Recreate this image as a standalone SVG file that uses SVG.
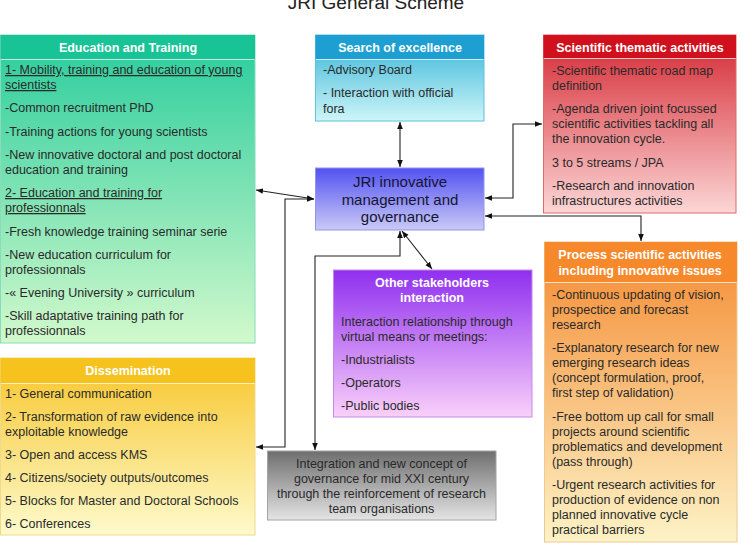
<svg xmlns="http://www.w3.org/2000/svg" width="744" height="546" viewBox="0 0 744 546">
<defs>
<linearGradient id="gEdu" x1="0" y1="0" x2="0" y2="1"><stop offset="0" stop-color="#27cc9c"/><stop offset="1" stop-color="#d2f9cc"/></linearGradient>
<linearGradient id="gSea" x1="0" y1="0" x2="0" y2="1"><stop offset="0" stop-color="#33b3d6"/><stop offset="1" stop-color="#cdf5f8"/></linearGradient>
<linearGradient id="gJri" x1="0" y1="0" x2="0" y2="1"><stop offset="0" stop-color="#5252f2"/><stop offset="1" stop-color="#cacaf7"/></linearGradient>
<linearGradient id="gSci" x1="0" y1="0" x2="0" y2="1"><stop offset="0" stop-color="#d52832"/><stop offset="1" stop-color="#fcd6d6"/></linearGradient>
<linearGradient id="gPro" x1="0" y1="0" x2="0" y2="1"><stop offset="0" stop-color="#f58a30"/><stop offset="1" stop-color="#fdf3c6"/></linearGradient>
<linearGradient id="gDis" x1="0" y1="0" x2="0" y2="1"><stop offset="0" stop-color="#f8c52a"/><stop offset="1" stop-color="#fdfacc"/></linearGradient>
<linearGradient id="gOth" x1="0" y1="0" x2="0" y2="1"><stop offset="0" stop-color="#8f2ff0"/><stop offset="1" stop-color="#fad0fa"/></linearGradient>
<linearGradient id="gInt" x1="0" y1="0" x2="0" y2="1"><stop offset="0" stop-color="#6e6e6e"/><stop offset="1" stop-color="#e4e4e4"/></linearGradient>
<marker id="ah" viewBox="0 0 10 10" refX="10" refY="5" markerWidth="7" markerHeight="7" markerUnits="userSpaceOnUse" orient="auto-start-reverse"><path d="M0,1 L10,5 L0,9 z" fill="#111"/></marker>
</defs>
<style>
text{font-family:"Liberation Sans",Arial,sans-serif;}
.t{font-size:12.5px;fill:#2a2a2a;}
.u{text-decoration:underline;}
.h{font-size:12.5px;font-weight:bold;fill:#ffffff;text-anchor:middle;}
.c{text-anchor:middle;}
.sep{stroke:#ffffff;stroke-opacity:0.7;stroke-width:1;}
.con{fill:none;stroke:#222;stroke-width:1.1;marker-start:url(#ah);marker-end:url(#ah);}
</style>
<rect width="744" height="546" fill="#ffffff"/>
<text x="376" y="9" class="c" font-size="19" fill="#222">JRI General Scheme</text>

<g id="education">
<rect x="0.5" y="35" width="254.5" height="308" fill="url(#gEdu)" stroke="#86dcbc"/>
<rect x="0.5" y="35" width="254.5" height="24" fill="#18c396"/>
<line x1="1" y1="59.5" x2="254.5" y2="59.5" class="sep"/>
<text x="128" y="51.5" class="h">Education and Training</text>
<text x="5" y="74" class="t u">1- Mobility, training and education of young</text>
<text x="5" y="89" class="t u">scientists</text>
<text x="5" y="112" class="t">-Common recruitment PhD</text>
<text x="5" y="135.5" class="t">-Training actions for young scientists</text>
<text x="5" y="159" class="t">-New innovative doctoral and post doctoral</text>
<text x="5" y="174" class="t">education and training</text>
<text x="5" y="197" class="t u">2- Education and training for</text>
<text x="5" y="212" class="t u">professionnals</text>
<text x="5" y="235.5" class="t">-Fresh knowledge training seminar serie</text>
<text x="5" y="258.5" class="t">-New education curriculum for</text>
<text x="5" y="273.5" class="t">professionnals</text>
<text x="5" y="296.5" class="t">-« Evening University » curriculum</text>
<text x="5" y="319.5" class="t">-Skill adaptative training path for</text>
<text x="5" y="335" class="t">professionnals</text>
</g>

<g id="search">
<rect x="315.5" y="35" width="168.5" height="86" fill="url(#gSea)" stroke="#5cc3e0"/>
<rect x="315.5" y="35" width="168.5" height="24" fill="#1e9fd2"/>
<line x1="316" y1="59.5" x2="483.5" y2="59.5" class="sep"/>
<text x="400" y="51.5" class="h">Search of excellence</text>
<text x="323" y="74" class="t">-Advisory Board</text>
<text x="323" y="97" class="t">- Interaction with official</text>
<text x="323" y="112.5" class="t">fora</text>
</g>

<g id="jri">
<rect x="315.5" y="168" width="168.5" height="62" fill="url(#gJri)" stroke="#9494ec"/>
<text x="400" y="187" class="c" font-size="15" fill="#151530">JRI innovative</text>
<text x="400" y="204.5" class="c" font-size="15" fill="#151530">management and</text>
<text x="400" y="222" class="c" font-size="15" fill="#151530">governance</text>
</g>

<g id="scientific">
<rect x="543.5" y="35" width="192.5" height="178" fill="url(#gSci)" stroke="#e06868"/>
<rect x="543.5" y="35" width="192.5" height="23" fill="#d0101c"/>
<line x1="544" y1="58.5" x2="735.5" y2="58.5" class="sep"/>
<text x="640" y="51.5" class="h">Scientific thematic activities</text>
<text x="552" y="74.5" class="t">-Scientific thematic road map</text>
<text x="552" y="89.5" class="t">definition</text>
<text x="552" y="112.5" class="t">-Agenda driven joint focussed</text>
<text x="552" y="128" class="t">scientific activities tackling all</text>
<text x="552" y="143" class="t">the innovation cycle.</text>
<text x="552" y="166.5" class="t">3 to 5 streams / JPA</text>
<text x="552" y="189.5" class="t">-Research and innovation</text>
<text x="552" y="204.5" class="t">infrastructures activities</text>
</g>

<g id="process">
<rect x="544.5" y="242" width="192.5" height="300" fill="url(#gPro)" stroke="#f0c890"/>
<rect x="544.5" y="242" width="192.5" height="40" fill="#f5892c"/>
<line x1="545" y1="282.5" x2="736.5" y2="282.5" class="sep"/>
<text x="640" y="258.5" class="h" fill="#fff6e8">Process scientific activities</text>
<text x="640" y="274.5" class="h" fill="#fff6e8">including innovative issues</text>
<text x="552" y="298.5" class="t">-Continuous updating of vision,</text>
<text x="552" y="313.5" class="t">prospectice and forecast</text>
<text x="552" y="328.5" class="t">research</text>
<text x="552" y="351.5" class="t">-Explanatory research for new</text>
<text x="552" y="366.5" class="t">emerging research ideas</text>
<text x="552" y="381.5" class="t">(concept formulation, proof,</text>
<text x="552" y="396.5" class="t">first step of validation)</text>
<text x="552" y="420.5" class="t">-Free bottom up call for small</text>
<text x="552" y="435.5" class="t">projects around scientific</text>
<text x="552" y="450.5" class="t">problematics and development</text>
<text x="552" y="465.5" class="t">(pass through)</text>
<text x="552" y="488.5" class="t">-Urgent research activities for</text>
<text x="552" y="503.5" class="t">production of evidence on non</text>
<text x="552" y="518.5" class="t">planned innovative cycle</text>
<text x="552" y="533.5" class="t">practical barriers</text>
</g>

<g id="dissemination">
<rect x="0.5" y="358" width="254.5" height="177" fill="url(#gDis)" stroke="#efd98a"/>
<rect x="0.5" y="358" width="254.5" height="25" fill="#f6c21e"/>
<line x1="1" y1="383.5" x2="254.5" y2="383.5" class="sep"/>
<text x="128" y="374.5" class="h" fill="#fff4cc">Dissemination</text>
<text x="5" y="397.5" class="t">1- General communication</text>
<text x="5" y="420.5" class="t">2- Transformation of raw evidence into</text>
<text x="5" y="435.5" class="t">exploitable knowledge</text>
<text x="5" y="458.5" class="t">3- Open and access KMS</text>
<text x="5" y="481.5" class="t">4- Citizens/society outputs/outcomes</text>
<text x="5" y="504.5" class="t">5- Blocks for Master and Doctoral Schools</text>
<text x="5" y="527.5" class="t">6- Conferences</text>
</g>

<g id="stakeholders">
<rect x="333.5" y="270" width="198.5" height="147" fill="url(#gOth)" stroke="#c888e4"/>
<text x="432" y="286.5" class="h" fill="#f8c4f6">Other stakeholders</text>
<text x="432" y="301.5" class="h" fill="#f8c4f6">interaction</text>
<text x="341" y="325.5" class="t">Interaction relationship through</text>
<text x="341" y="340.5" class="t">virtual means or meetings:</text>
<text x="341" y="363.5" class="t">-Industrialists</text>
<text x="341" y="386.5" class="t">-Operators</text>
<text x="341" y="409.5" class="t">-Public bodies</text>
</g>

<g id="integration">
<rect x="267.5" y="451" width="228.5" height="69" fill="url(#gInt)" stroke="#a4a4a4"/>
<text x="381.5" y="468" class="t c">Integration and new concept of</text>
<text x="381.5" y="483" class="t c">governance for mid XXI century</text>
<text x="381.5" y="498" class="t c">through the reinforcement of research</text>
<text x="381.5" y="513" class="t c">team organisations</text>
</g>

<g id="connectors">
<path class="con" d="M400,122 V167"/>
<path class="con" d="M256,190 L314,199"/>
<path class="con" d="M256,447 H285 V199 H314"/>
<path class="con" d="M400,231 V256 H315 V450"/>
<path class="con" d="M402,231 L432,269"/>
<path class="con" d="M485,198 H513 V124 H542"/>
<path class="con" d="M485,216 H641 V241"/>
</g>
</svg>
